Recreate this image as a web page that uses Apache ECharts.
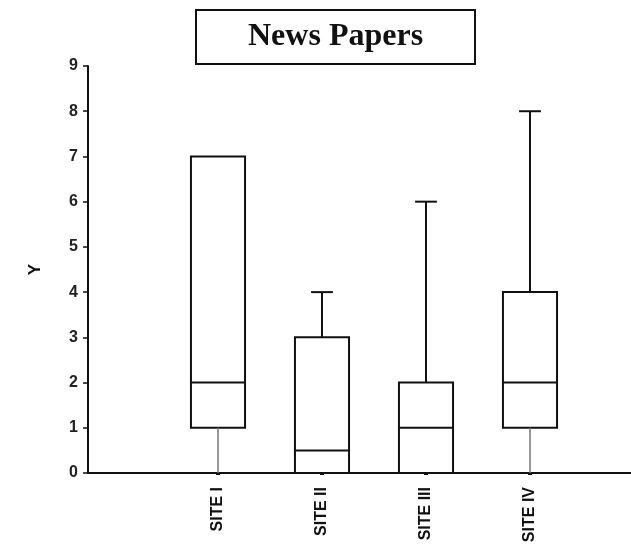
<!DOCTYPE html>
<html>
<head>
<meta charset="UTF-8">
<title>News Papers</title>
<script src="https://cdn.jsdelivr.net/npm/echarts@6/dist/echarts.min.js"></script>
<style>
  html, body { margin: 0; padding: 0; background: #fff; }
  #chart { width: 631px; height: 555px; }
</style>
</head>
<body>
<div id="chart"></div>
<script>
// data: min, Q1, median, Q3, max per site
var sites = ['SITE I', 'SITE II', 'SITE III', 'SITE IV'];
var mins = [0, 0, 0, 0];
var q1s = [1, 0, 0, 1];
var medians = [2, 0.5, 1, 2];
var q3s = [7, 3, 2, 4];
var maxs = [7, 4, 6, 8];
var yTicks = [0, 1, 2, 3, 4, 5, 6, 7, 8, 9];

var boxData = sites.map(function (s, i) {
  return [i, mins[i], q1s[i], medians[i], q3s[i], maxs[i]];
});

var lineStyle = { stroke: '#111', lineWidth: 2, fill: null };

function renderBox(params, api) {
  var x = api.value(0);
  var band = api.size([1, 0])[0];
  var half = band * 0.26;
  var cap = band * 0.105;
  var pMin = api.coord([x, api.value(1)]);
  var pQ1 = api.coord([x, api.value(2)]);
  var pMed = api.coord([x, api.value(3)]);
  var pQ3 = api.coord([x, api.value(4)]);
  var pMax = api.coord([x, api.value(5)]);
  var cx = pQ1[0];
  var kids = [];
  kids.push({
    type: 'rect',
    shape: { x: cx - half, y: pQ3[1], width: half * 2, height: pQ1[1] - pQ3[1] },
    style: lineStyle
  });
  kids.push({
    type: 'line',
    shape: { x1: cx - half, y1: pMed[1], x2: cx + half, y2: pMed[1] },
    style: lineStyle
  });
  if (api.value(5) > api.value(4)) {
    kids.push({ type: 'line', shape: { x1: cx, y1: pQ3[1], x2: cx, y2: pMax[1] }, style: lineStyle });
    kids.push({ type: 'line', shape: { x1: cx - cap, y1: pMax[1], x2: cx + cap, y2: pMax[1] }, style: lineStyle });
  }
  if (api.value(2) > api.value(1)) {
    kids.push({ type: 'line', shape: { x1: cx, y1: pQ1[1], x2: cx, y2: pMin[1] }, style: { stroke: '#777', lineWidth: 1.5 } });
  }
  return { type: 'group', children: kids };
}

var chart = echarts.init(document.getElementById('chart'), null, { renderer: 'canvas' });
chart.setOption({
  backgroundColor: '#fff',
  animation: false,
  title: {
    text: 'News Papers',
    left: 196,
    top: 10,
    padding: [11, 52, 11, 52],
    borderColor: '#111',
    borderWidth: 2,
    textStyle: { fontFamily: 'Liberation Serif', fontWeight: 'bold', fontSize: 32, color: '#111' }
  },
  grid: [
    { left: 88, right: 0, top: 66, bottom: 82 },
    { left: 166, right: 49, top: 66, bottom: 82 }
  ],
  xAxis: [
    {
      type: 'value', gridIndex: 0, min: 0, max: 1,
      axisLine: { show: true, lineStyle: { color: '#111', width: 2 } },
      axisTick: { show: false }, axisLabel: { show: false }, splitLine: { show: false }
    },
    {
      type: 'category', gridIndex: 1, data: sites,
      axisLine: { show: false },
      axisTick: { show: true, alignWithLabel: true, length: 2, lineStyle: { color: '#111', width: 4 } },
      axisLabel: { rotate: 90, margin: 14, fontFamily: 'Liberation Sans', fontWeight: 'bold', fontSize: 16, color: '#111' }
    }
  ],
  yAxis: [
    {
      type: 'value', gridIndex: 0, min: 0, max: 9, interval: 1,
      name: 'Y', nameLocation: 'middle', nameGap: 44, nameRotate: 90,
      nameTextStyle: { fontFamily: 'Liberation Sans', fontWeight: 'bold', fontSize: 17, color: '#111' },
      axisLine: { show: true, lineStyle: { color: '#111', width: 2 } },
      axisTick: { show: true, length: 5, lineStyle: { color: '#111', width: 1.5 } },
      axisLabel: {
        margin: 10, fontFamily: 'Liberation Sans', fontWeight: 'bold', fontSize: 16, color: '#222',
        formatter: function (v) { return yTicks.indexOf(v) >= 0 ? String(v) : ''; }
      },
      splitLine: { show: false }
    },
    { type: 'value', gridIndex: 1, min: 0, max: 9, show: false }
  ],
  series: [{
    type: 'custom',
    xAxisIndex: 1,
    yAxisIndex: 1,
    renderItem: renderBox,
    encode: { x: 0, y: [1, 2, 3, 4, 5] },
    data: boxData,
    z: 5
  }]
});
</script>
</body>
</html>
